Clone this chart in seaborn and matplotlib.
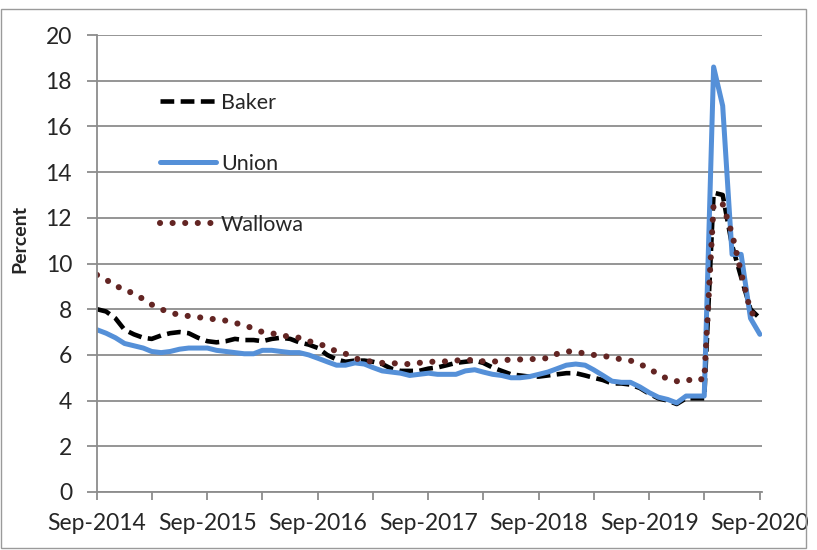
import numpy as np
import pandas as pd
import matplotlib.pyplot as plt
import matplotlib.dates as mdates
from matplotlib.patches import Rectangle
import seaborn as sns

# monthly unemployment rate, Sep-2014 .. Sep-2020
months = pd.date_range('2014-09-01', periods=73, freq='MS')

baker = [8.0, 7.9, 7.6, 7.1, 6.9, 6.75, 6.7, 6.85, 6.95, 7.0, 6.95, 6.75,
         6.6, 6.55, 6.6, 6.7, 6.65, 6.65, 6.6, 6.7, 6.75, 6.7, 6.55, 6.45,
         6.3, 6.0, 5.8, 5.7, 5.75, 5.75, 5.7, 5.6, 5.4, 5.3, 5.3, 5.3,
         5.4, 5.45, 5.55, 5.65, 5.7, 5.75, 5.65, 5.45, 5.3, 5.15, 5.1, 5.05,
         5.05, 5.1, 5.15, 5.2, 5.2, 5.1, 5.0, 4.9, 4.75, 4.75, 4.7, 4.55,
         4.3, 4.1, 4.0, 3.85, 4.1, 4.1, 4.1, 13.1, 13.0, 10.8, 9.4, 8.0,
         7.6]
union = [7.1, 6.95, 6.75, 6.5, 6.4, 6.3, 6.15, 6.1, 6.15, 6.25, 6.3, 6.3,
         6.3, 6.2, 6.15, 6.1, 6.05, 6.05, 6.2, 6.2, 6.15, 6.1, 6.1, 6.0,
         5.85, 5.7, 5.55, 5.55, 5.65, 5.6, 5.45, 5.3, 5.25, 5.2, 5.1, 5.15,
         5.2, 5.15, 5.15, 5.15, 5.3, 5.35, 5.25, 5.15, 5.1, 5.0, 5.0, 5.05,
         5.15, 5.25, 5.4, 5.55, 5.6, 5.55, 5.35, 5.1, 4.85, 4.8, 4.8, 4.6,
         4.35, 4.15, 4.05, 3.9, 4.2, 4.2, 4.2, 18.6, 16.9, 10.4, 10.4, 7.6,
         6.9]
wallowa = [9.5, 9.3, 9.0, 8.9, 8.65, 8.45, 8.2, 8.0, 7.85, 7.75, 7.7, 7.65,
           7.6, 7.55, 7.5, 7.4, 7.3, 7.15, 7.0, 6.95, 6.85, 6.8, 6.75, 6.6,
           6.5, 6.35, 6.15, 6.05, 5.85, 5.75, 5.7, 5.65, 5.65, 5.6, 5.6, 5.65,
           5.7, 5.7, 5.72, 5.75, 5.8, 5.75, 5.72, 5.7, 5.75, 5.8, 5.8, 5.8,
           5.85, 5.85, 6.05, 6.15, 6.15, 6.05, 6.0, 5.95, 5.9, 5.8, 5.75, 5.6,
           5.4, 5.15, 4.95, 4.85, 4.85, 5.0, 4.9, 12.6, 12.6, 11.3, 9.6, 7.9,
           7.5]

df = pd.DataFrame({'Month': months, 'Baker': baker, 'Union': union, 'Wallowa': wallowa})

sns.set_style('white')
plt.rcParams['font.family'] = ['Lato', 'DejaVu Sans']

fig = plt.figure(figsize=(8.17, 5.5), dpi=100)
ax = fig.add_axes([97/817, 1-492/550, 665/817, 457/550])

sns.lineplot(data=df, x='Month', y='Baker', ax=ax, color='black', linewidth=3.3,
             linestyle=(0, (3.0, 1.4)), label='Baker')
sns.lineplot(data=df, x='Month', y='Union', ax=ax, color='#5590d8', linewidth=3.6,
             label='Union')
sns.lineplot(data=df, x='Month', y='Wallowa', ax=ax, color='#632523', linewidth=4.4,
             linestyle=(0, (0.01, 2.05)), dash_capstyle='round', label='Wallowa')

ax.set_ylim(0, 20)
ax.set_yticks(np.arange(0, 21, 2))
ax.set_xlim(months[0], months[-1] + pd.Timedelta(days=7))
ax.xaxis.set_major_locator(mdates.MonthLocator(bymonth=9))
ax.xaxis.set_major_formatter(mdates.DateFormatter('%b-%Y'))
ax.xaxis.set_minor_locator(mdates.MonthLocator(bymonth=3))

ax.grid(axis='y', color='#8c8c8c', linewidth=1.3)
ax.set_axisbelow(True)
for s in ['top', 'right']:
    ax.spines[s].set_visible(False)
for s in ['left', 'bottom']:
    ax.spines[s].set_color('#8c8c8c')
    ax.spines[s].set_linewidth(1.3)

ax.tick_params(axis='y', which='major', direction='out', length=7, width=1.3,
               color='#8c8c8c', pad=11, labelsize=16.5, left=True)
ax.tick_params(axis='x', which='both', direction='out', length=6, width=1.3,
               color='#8c8c8c', pad=9, labelsize=16.5, bottom=True)

ax.set_xlabel('')
ax.set_ylabel('Percent', fontweight='bold', fontsize=14)
ax.yaxis.set_label_coords(-0.103, 0.554)

ax.legend(loc='upper left', bbox_to_anchor=(0.078, 0.897), frameon=False,
          fontsize=15.5, labelspacing=1.9, handlelength=2.6, handletextpad=0.25,
          borderpad=0)

fig.patches.append(Rectangle((1/817, 2/550), 805/817, 539/550, transform=fig.transFigure,
                             fill=False, edgecolor='#9a9a9a', linewidth=1))

plt.savefig('out.png', dpi=100)
